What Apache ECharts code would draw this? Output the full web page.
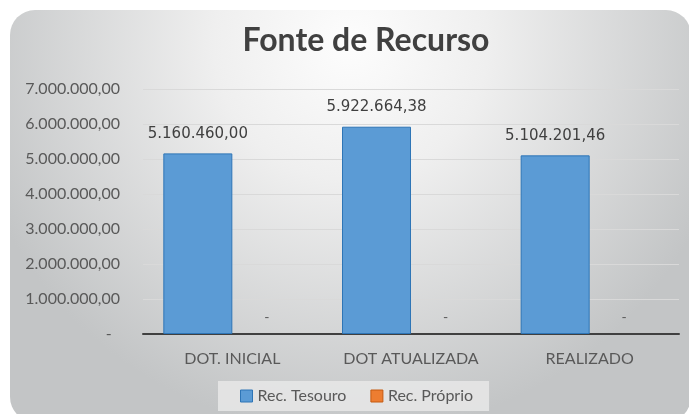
<!DOCTYPE html>
<html><head><meta charset="utf-8">
<script src="https://cdn.jsdelivr.net/npm/echarts@6/dist/echarts.min.js"></script>
<style>html,body{margin:0;padding:0;background:#fff}#c{width:689px;height:414px}</style>
</head><body><div id="c"></div>
<script>
var categories = ['DOT. INICIAL', 'DOT ATUALIZADA', 'REALIZADO'];
var recTesouro = [5160460.00, 5922664.38, 5104201.46];
var recProprio = [0, 0, 0];
var seriesNames = ['Rec. Tesouro', 'Rec. Próprio'];
var yTicks = [0, 1000000, 2000000, 3000000, 4000000, 5000000, 6000000, 7000000];

function fmtBR(v) {
  if (v === 0) return '-';
  var parts = v.toFixed(2).split('.');
  var intPart = parts[0].replace(/\B(?=(\d{3})+(?!\d))/g, '.');
  return intPart + ',' + parts[1];
}

var chart = echarts.init(document.getElementById('c'), null, {renderer: 'canvas'});
var bgFill = new echarts.graphic.RadialGradient(0.5, 0.08, 0.95, [
  {offset: 0, color: '#fdfdfd'},
  {offset: 0.35, color: '#efefef'},
  {offset: 1, color: '#c3c5c6'}
]);
chart.setOption({
  animation: false,
  graphic: [{
    type: 'rect', z: -10, silent: true,
    shape: {x: 10, y: 10, width: 681, height: 412, r: 25},
    style: {fill: bgFill}
  }],
  title: {
    text: 'Fonte de Recurso',
    left: 361, top: 20, textAlign: 'center',
    textStyle: {fontFamily: 'Lato', fontWeight: 'bold', fontSize: 32, color: '#404040'}
  },
  legend: {
    data: [
      {name: seriesNames[0], itemStyle: {color: '#5b9bd5', borderColor: '#2e75b6', borderWidth: 1}},
      {name: seriesNames[1], itemStyle: {color: '#ed7d31', borderColor: '#c55a11', borderWidth: 1}}
    ],
    icon: 'rect',
    left: 218, top: 381,
    padding: [7, 16, 7, 22],
    itemGap: 24,
    itemWidth: 12, itemHeight: 12,
    backgroundColor: 'rgba(232,232,232,0.85)',
    textStyle: {fontFamily: 'Lato', fontSize: 16, color: '#595959'}
  },
  grid: {left: 143, right: 10, top: 89, bottom: 80},
  xAxis: {
    type: 'category',
    data: categories,
    axisTick: {show: false},
    axisLine: {lineStyle: {color: '#404040', width: 2}},
    axisLabel: {fontFamily: 'Lato', fontSize: 16, color: '#595959', margin: 17}
  },
  yAxis: {
    type: 'value',
    min: yTicks[0], max: yTicks[yTicks.length - 1], interval: 1000000,
    axisLine: {show: false},
    axisTick: {show: false},
    splitLine: {lineStyle: {color: '#d9d9d9', width: 1}},
    axisLabel: {
      fontFamily: 'Lato', fontSize: 16, color: '#595959', margin: 23,
      formatter: function (v) { return v === 0 ? '-  ' : fmtBR(v); }
    }
  },
  series: [{
    name: seriesNames[0], type: 'bar', data: recTesouro,
    barWidth: 69, barGap: '0%',
    itemStyle: {color: '#5b9bd5', borderColor: '#2e75b6', borderWidth: 1},
    label: {
      show: true, position: 'top', distance: 12,
      fontFamily: 'DejaVu Sans', fontSize: 15, color: '#404040',
      formatter: function (p) { return fmtBR(p.value); }
    }
  }, {
    name: seriesNames[1], type: 'bar', data: recProprio,
    barWidth: 69, barGap: '0%',
    itemStyle: {color: '#ed7d31', borderWidth: 0},
    label: {
      show: true, position: 'top', distance: 10,
      fontFamily: 'Lato', fontSize: 14, color: '#595959',
      formatter: function (p) { return fmtBR(p.value); }
    }
  }]
});
</script></body></html>
